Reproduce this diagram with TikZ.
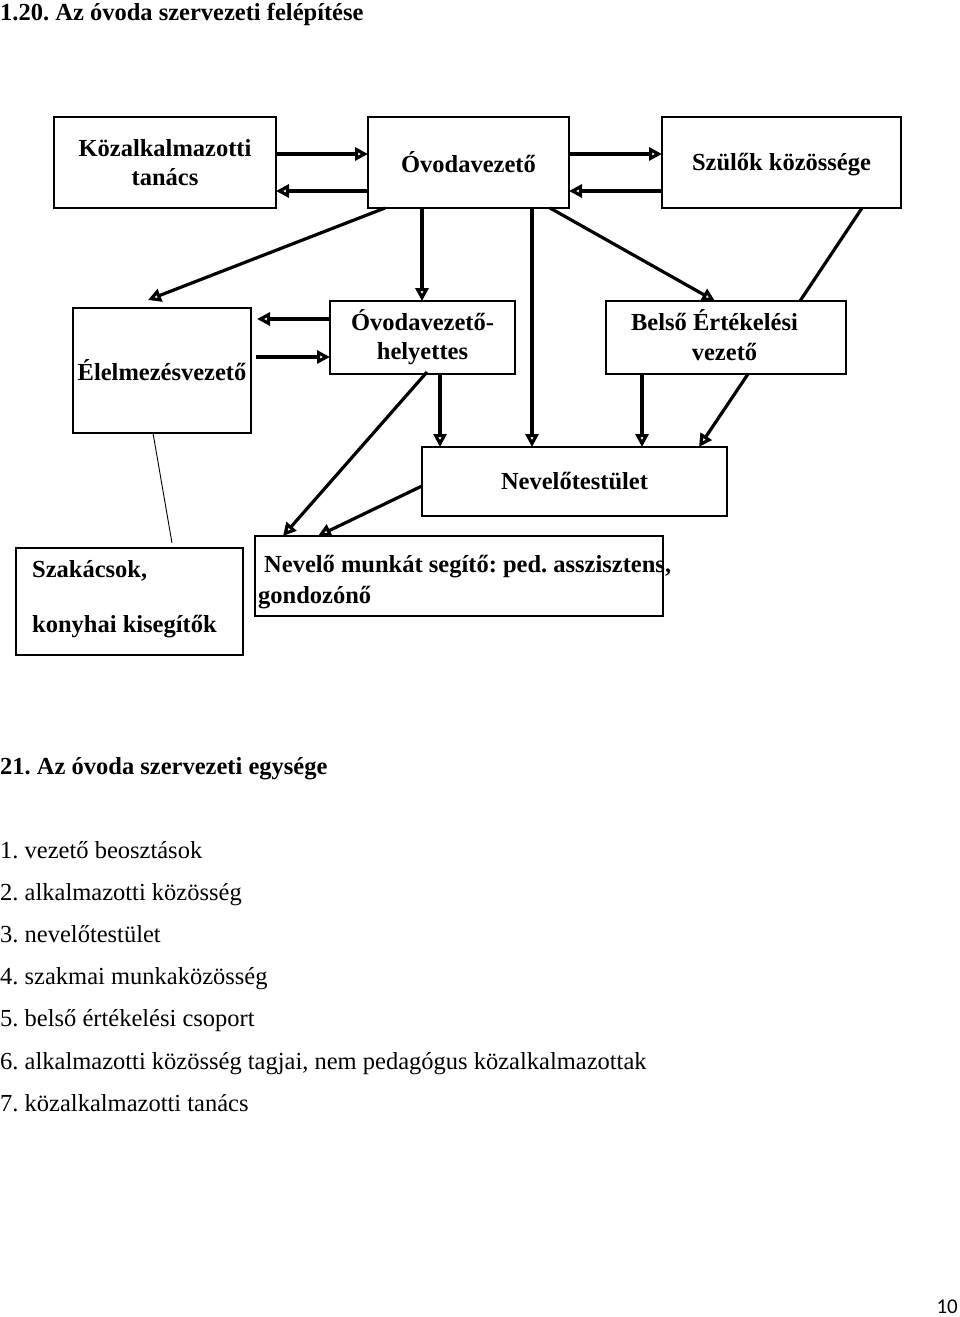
\documentclass[tikz,border=0pt]{standalone}
\usepackage{fontspec}
\setmainfont{Liberation Serif}
\newfontfamily\pgnumfont{Carlito}
\usetikzlibrary{arrows.meta}
\frenchspacing
\begin{document}
\begin{tikzpicture}[x=1pt,y=-1pt,
  box/.style={draw, line width=2.8pt, inner sep=0pt, outer sep=0pt, align=center,
    font=\fontsize{24.5}{29}\selectfont\bfseries},
  arr/.style={line width=3.2pt, -{Triangle[open,length=13pt,width=13pt]}},
  plainln/.style={line width=3.2pt},
  thinln/.style={line width=0.9pt},
  bt/.style={inner sep=0pt, anchor=base west, font=\fontsize{24.5}{29}\selectfont\bfseries},
  lt/.style={inner sep=0pt, anchor=base west, font=\fontsize{24.5}{29}\selectfont}]
\useasboundingbox[fill=white] (0,0) rectangle (960,1317);

% title
\node[bt] (title) at (0,20) {1.20. Az óvoda szervezeti felépítése};

% boxes
\node[box, minimum width=222pt, minimum height=91pt] (kt) at (165,162.5) {Közalkalmazotti\\tanács};
\node[box, minimum width=201pt, minimum height=91pt] (ov) at (468.5,162.5) {Óvodavezető};
\node[box, minimum width=239pt, minimum height=91pt] (sz) at (781.5,162.5) {};
\node[box, minimum width=178pt, minimum height=125pt] (el) at (162,370.5) {Élelmezésvezető};
\node[box, minimum width=185pt, minimum height=73pt] (he) at (422.5,337.5) {Óvodavezető-\\helyettes};
\node[box, minimum width=240pt, minimum height=73pt] (be) at (726,337.5) {};
\node[box, minimum width=305pt, minimum height=69pt] (nt) at (574.5,481.5) {Nevelőtestület};
\node[box, minimum width=227pt, minimum height=107pt] (sk) at (129.5,601.5) {};
\node[box, minimum width=408pt, minimum height=80pt] (nm) at (459,576) {};

% texts inside boxes
\node[bt, anchor=base] (sz1) at (781.5,170) {Szülők közössége};
\node[bt, anchor=base] (be1) at (714.5,330) {Belső Értékelési};
\node[bt, anchor=base] (be2) at (724.5,360) {vezető};
\node[bt] (sk1) at (32,577) {Szakácsok,};
\node[bt] (sk2) at (32,632) {konyhai kisegítők};
\node[bt] (nm1) at (264,572) {Nevelő munkát segítő: ped. asszisztens,};
\node[bt] (nm2) at (258,603) {gondozónő};

% connectors
\draw[arr] ([yshift=8.5pt]kt.east) -- ([yshift=8.5pt]ov.west);
\draw[arr] ([yshift=-28.5pt]ov.west) -- ([yshift=-28.5pt]kt.east);
\draw[arr] ([yshift=8.5pt]ov.east) -- ([yshift=8.5pt]sz.west);
\draw[arr] ([yshift=-28.5pt]sz.west) -- ([yshift=-28.5pt]ov.east);
\draw[arr] ([xshift=17pt]ov.south west) -- ([xshift=75pt,yshift=8pt]el.north west);
\draw[arr] ([xshift=54pt]ov.south west) -- ([xshift=92pt]he.north west);
\draw[arr] ([xshift=164pt]ov.south west) -- ([xshift=110pt]nt.north west);
\draw[arr] ([xshift=182pt]ov.south west) -- ([xshift=109pt]be.north west);
\draw[plainln] ([xshift=200pt]sz.south west) -- ([xshift=194pt]be.north west);
\draw[arr] ([yshift=-18pt]he.north west) -- ([xshift=6pt,yshift=-11pt]el.north east);
\draw[arr] ([xshift=5pt,yshift=-49pt]el.north east) -- ([yshift=-56pt]he.north west);
\draw[arr] ([xshift=110pt]he.south west) -- ([xshift=18pt]nt.north west);
\draw[arr] ([xshift=97pt,yshift=2pt]he.south west) -- ([xshift=28pt]nm.north west);
\draw[arr] ([yshift=-4.5pt]nt.west) -- ([xshift=63pt]nm.north west);
\draw[arr] ([xshift=36pt]be.south west) -- ([xshift=220pt]nt.north west);
\draw[arr] ([xshift=142pt]be.south west) -- ([xshift=277pt]nt.north west);
\draw[thinln] ([xshift=80pt]el.south west) -- ([xshift=156pt,yshift=5pt]sk.north west);

% lower text
\node[bt] (h21) at (0,774) {21. Az óvoda szervezeti egysége};
\node[lt] (l1) at (0,858) {1. vezető beosztások};
\node[lt] (l2) at (0,900) {2. alkalmazotti közösség};
\node[lt] (l3) at (0,942) {3. nevelőtestület};
\node[lt] (l4) at (0,984) {4. szakmai munkaközösség};
\node[lt] (l5) at (0,1026) {5. belső értékelési csoport};
\node[lt] (l6) at (0,1069) {6. alkalmazotti közösség tagjai, nem pedagógus közalkalmazottak};
\node[lt] (l7) at (0,1111) {7. közalkalmazotti tanács};

\node[inner sep=0pt, anchor=base east, font=\pgnumfont\fontsize{21}{24}\selectfont] (pg) at (958,1313) {10};
\end{tikzpicture}
\end{document}
